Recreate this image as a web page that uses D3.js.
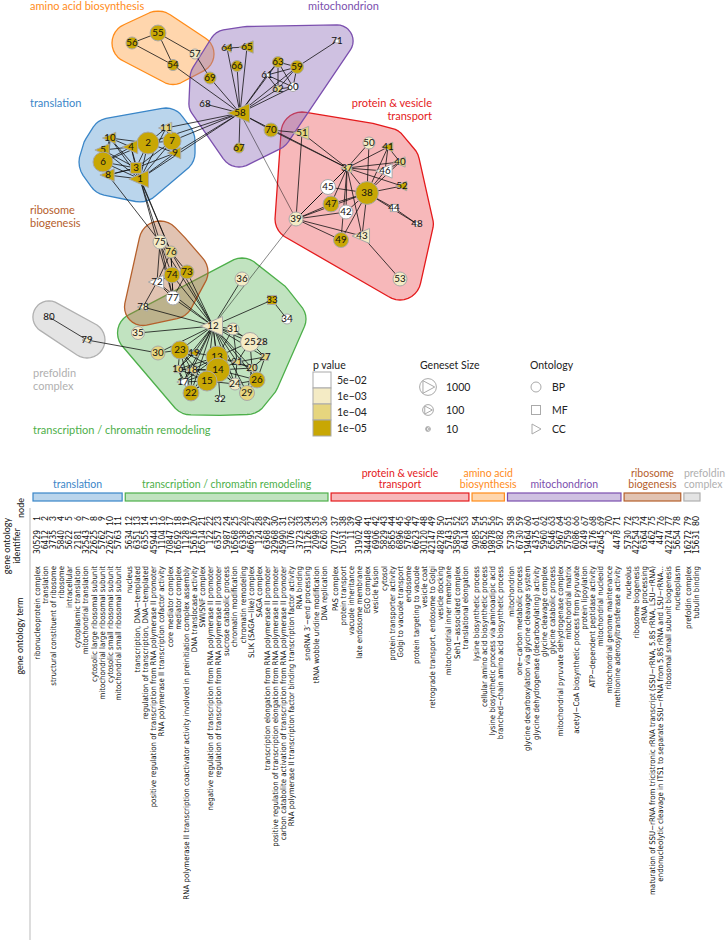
<!DOCTYPE html>
<html><head><meta charset="utf-8">
<script src="https://cdn.jsdelivr.net/npm/d3@7"></script>
<style>body{margin:0;background:#fff}svg{display:block}</style>
</head><body>
<svg id="chart" width="726" height="945"></svg>
<script>
// ---------------- DATA ----------------
const groupKeys   = ["translation","transcription","protein","amino","mito","ribosome","prefoldin"];
const groupLabels = [["translation"],["transcription / chromatin remodeling"],["protein & vesicle","transport"],["amino acid","biosynthesis"],["mitochondrion"],["ribosome","biogenesis"],["prefoldin","complex"]];
const groupColors = ["#3a86c8","#4daf4a","#e41a1c","#ff8c1a","#7b4fae","#b5602c","#b0b0b0"];
const groupFirst  = [1,12,37,54,58,72,79];

const goTerms = [
"ribonucleoprotein complex","translation","structural constituent of ribosome","ribosome","intracellular","cytoplasmic translation","mitochondrial translation","cytosolic large ribosomal subunit","mitochondrial large ribosomal subunit","cytosolic small ribosomal subunit","mitochondrial small ribosomal subunit",
"nucleus","transcription, DNA\u2212templated","regulation of transcription, DNA\u2212templated","positive regulation of transcription from RNA polymerase II promoter","RNA polymerase II transcription cofactor activity","core mediator complex","mediator complex","RNA polymerase II transcription coactivator activity involved in preinitiation complex assembly","DNA translocase activity","SWI/SNF complex","negative regulation of transcription from RNA polymerase II promoter","regulation of transcription from RNA polymerase II promoter","sucrose catabolic process","chromatin modification","chromatin remodeling","SLIK (SAGA\u2212like) complex","SAGA complex","transcription elongation from RNA polymerase II promoter","positive regulation of transcription elongation from RNA polymerase II promoter","carbon catabolite activation of transcription from RNA polymerase II promoter","RNA polymerase II transcription factor binding transcription factor activity","RNA binding","snoRNA 3\u2032\u2212end processing","tRNA wobble uridine modification","DNA replication",
"PAS complex","protein transport","vacuole inheritance","late endosome membrane","EGO complex","vesicle fusion","cytosol","protein transporter activity","Golgi to vacuole transport","endosome","protein targeting to vacuole","vesicle coat","retrograde transport, endosome to Golgi","vesicle docking","mitochondrial inner membrane","Seh1\u2212associated complex","translational elongation",
"lysine biosynthetic process","cellular amino acid biosynthetic process","lysine biosynthetic process via aminoadipic acid","branched\u2212chain amino acid biosynthetic process",
"mitochondrion","one\u2212carbon metabolic process","glycine decarboxylation via glycine cleavage system","glycine dehydrogenase (decarboxylating) activity","glycine cleavage complex","glycine catabolic process","mitochondrial pyruvate dehydrogenase complex","mitochondrial matrix","acetyl\u2212CoA biosynthetic process from pyruvate","protein lipoylation","ATP\u2212dependent peptidase activity","mitochondrial nucleoid","mitochondrial genome maintenance","methionine adenosyltransferase activity",
"nucleolus","ribosome biogenesis","rRNA processing","maturation of SSU\u2212rRNA from tricistronic rRNA transcript (SSU\u2212rRNA, 5.8S rRNA, LSU\u2212rRNA)","endonucleolytic cleavage in ITS1 to separate SSU\u2212rRNA from 5.8S rRNA and LSU\u2212rRNA...","ribosomal small subunit biogenesis","nucleoplasm",
"prefoldin complex","tubulin binding"];

const goIds = [30529,6412,3735,5840,5622,2181,32543,22625,5762,22627,5763,
5634,6351,6355,45944,1104,70847,16592,1128,15616,16514,122,6357,5987,16568,6338,46695,124,6368,32968,45990,1076,3723,31126,2098,6260,
70772,15031,11,31902,34448,6906,5829,8565,6896,5768,6623,30120,42147,48278,5743,35859,6414,
9085,8652,19878,9082,
5739,6730,19464,4375,5960,6546,5967,5759,6086,9249,4176,42645,2,4478,
5730,42254,6364,462,447,42274,5654,
16272,15631];

// network layout coordinates (layout units)
const layoutX = [140,148,136,131,103,103,172,108,175,110,166,
213,217,218,207,178,183,192,194,252,237,191,180,235,250,257,265,262,247,158,233,220,272,287,138,242,
347,367,296,400,388,346,362,394,328,385,331,417,341,369,302,402,400,
173,158,132,195,
240,297,293,267,278,278,227,247,237,239,205,210,271,337,
157,187,172,160,171,173,143,
87,49];
const layoutY = [179,143,168,147,150,162,141,175,153,138,128,
326,357,370,381,369,382,370,353,368,362,393,350,384,342,380,357,342,393,353,329,399,300,319,333,279,
168,193,219,162,147,212,236,208,187,171,204,224,240,143,133,186,279,
65,33,43,54,
113,67,87,75,89,62,48,47,66,148,104,78,130,41,
282,272,275,242,252,298,307,
340,317];
// ontology: BP circle, MF square, CC triangle
const ontology = ["CC","BP","MF","CC","CC","BP","BP","CC","CC","CC","CC",
"CC","BP","BP","BP","MF","CC","CC","CC","MF","CC","BP","BP","BP","BP","BP","MF","BP","BP","BP","BP","BP","MF","BP","BP","BP",
"CC","BP","BP","CC","CC","BP","CC","MF","BP","CC","BP","BP","BP","BP","CC","CC","BP",
"BP","BP","BP","BP",
"CC","BP","BP","CC","BP","BP","CC","CC","BP","BP","BP","BP","BP","BP",
"CC","BP","BP","BP","BP","BP","CC",
"CC","BP"];
const pValues = [1e-6,1e-6,1e-6,1e-6,1e-6,1e-6,1e-6,1e-6,1e-6,1e-6,5e-5,
5e-4,1e-6,1e-6,1e-6,5e-5,1e-2,5e-5,1e-6,5e-5,5e-5,1e-6,1e-6,5e-4,5e-4,1e-6,5e-5,5e-4,5e-5,5e-5,5e-4,1e-2,1e-6,1e-2,5e-4,5e-4,
5e-5,1e-6,5e-4,5e-5,1e-6,1e-2,5e-4,1e-2,1e-2,1e-2,1e-6,1e-2,1e-6,5e-4,5e-5,1e-6,5e-4,
1e-6,1e-6,1e-6,5e-4,
1e-6,1e-6,1e-2,1e-2,5e-5,1e-6,1e-6,1e-6,1e-6,1e-6,1e-2,1e-6,1e-6,1e-2,
1e-2,1e-6,1e-6,5e-4,5e-5,1e-2,5e-4,
5e-4,1e-2];
const genesetSize = [1500,7000,160,350,230,3400,1600,230,160,160,160,
3400,7000,15000,3400,34,70,70,40,34,50,700,1600,160,2300,700,25,16,500,340,160,10,74,74,230,340,
74,10000,340,100,74,340,700,34,500,500,700,10,500,160,340,74,340,
108,700,160,74,
3400,230,50,10,25,108,50,230,108,74,8,160,340,8,
340,340,700,340,160,340,50,
34,8];

const edges = [
[1,2],[1,3],[1,4],[1,5],[1,6],[1,7],[1,8],[1,9],[1,10],[1,11],[2,3],[2,4],[2,6],[2,7],[2,9],[2,10],[2,11],
[3,4],[3,5],[3,6],[3,7],[3,8],[3,9],[3,10],[4,6],[4,10],[5,6],[5,8],[6,8],[6,10],[7,9],[7,11],[8,10],[9,11],[4,5],[8,3],
[11,58],[7,58],[9,58],[2,58],[1,58],
[1,75],[1,76],[3,76],[8,75],[1,77],
[58,54],[58,64],[58,65],[58,66],[58,61],[58,62],[58,63],[58,59],[58,60],[58,68],[58,69],[58,67],[58,70],[58,37],[58,39],
[64,65],[59,71],[59,63],[59,61],[59,62],[59,60],[63,61],[63,62],[63,60],[61,62],[61,60],[62,60],[70,51],[70,37],[57,69],
[55,56],[55,54],[56,54],[55,57],
[37,51],[37,50],[37,41],[37,40],[37,46],[37,52],[37,38],[37,45],[37,47],[37,42],[37,39],[37,43],[37,49],
[38,50],[38,41],[38,40],[38,46],[38,52],[38,44],[38,48],[38,45],[38,47],[38,42],[38,39],[38,49],[38,43],
[39,47],[39,42],[39,49],[39,43],[39,45],[41,40],[40,46],[44,48],[43,53],[51,39],[46,41],
[12,13],[12,14],[12,15],[12,16],[12,17],[12,18],[12,19],[12,20],[12,21],[12,22],[12,23],[12,24],[12,25],[12,26],[12,27],[12,28],[12,29],[12,30],[12,31],[12,33],[12,35],[12,36],
[12,72],[12,73],[12,74],[12,75],[12,76],[12,77],[12,78],[12,39],[33,34],[30,79],[79,80],
[13,14],[13,15],[13,23],[13,22],[13,18],[13,16],[13,17],[13,21],[13,24],[13,25],[13,20],
[14,15],[14,22],[14,23],[14,18],[14,17],[14,16],[14,21],[14,20],[14,24],[14,26],[14,29],[14,32],
[15,22],[15,23],[15,16],[15,17],[15,18],[15,24],[16,17],[16,18],[16,22],[16,23],[17,18],[17,22],[18,22],[18,23],[19,23],[19,16],
[20,21],[20,25],[20,26],[20,27],[20,29],[21,25],[21,27],[21,31],[22,23],[24,26],[24,29],[24,21],[25,28],[25,27],[25,31],[26,29],[26,27],[23,30],[13,31],
[75,76],[75,74],[75,72],[75,77],[76,74],[76,73],[76,77],[74,73],[74,77],[72,74],[72,77],[73,77],[78,72],[76,72]
];

const pLegend = ["5e\u221202","1e\u221203","1e\u221204","1e\u221205"];
const sizeLegend = [1000,100,10];
const ontoLegend = ["BP","MF","CC"];
const rowLabels = [["node"],["gene ontology","identifier"],["gene ontology term"]];

// ---------------- SETUP ----------------
const svg = d3.select("#chart");
const FONT = "Lato, 'Open Sans', sans-serif";
const NARROW = "'Liberation Sans Narrow', 'DejaVu Sans Condensed', sans-serif";
const nodeIds = goIds.map((d,i)=>i+1);
const groupOf = id => { let g=0; groupFirst.forEach((f,i)=>{ if(id>=f) g=i; }); return g; };

const xNet = d3.scaleLinear().domain(d3.extent(layoutX)).range([49,417]);
const yNet = d3.scaleLinear().domain(d3.extent(layoutY)).range([33,399]);
const rScale = d3.scaleLog().domain([10,1000]).range([2.4,8.4]);
const pColors = ["#c8a704","#e6d57e","#f4ebc5","#ffffff"];
const pColor = d3.scaleThreshold().domain([1e-5,1e-4,1e-3]).range(pColors);

const nodes = nodeIds.map((id,i)=>({id, x:xNet(layoutX[i]), y:yNet(layoutY[i]), r:rScale(genesetSize[i]), onto:ontology[i], p:pValues[i], g:groupOf(id)}));
const byId = new Map(nodes.map(n=>[n.id,n]));

// ---------------- HULLS ----------------
const hullFill = ["#3a86c8","#4daf4a","#e8353a","#ff9933","#8c6bb8","#b5683f","#c4c4c4"];
const hullOp   = [0.35,0.35,0.35,0.4,0.42,0.4,0.45];
const gHull = svg.append("g");
groupKeys.forEach((k,gi)=>{
  const pts=[];
  nodes.filter(n=>n.g===gi).forEach(n=>{
    const R = 14 + n.r;
    for(let a=0;a<32;a++){ const t=a/32*2*Math.PI; pts.push([n.x+R*Math.cos(t), n.y+R*Math.sin(t)]); }
  });
  const hull = d3.polygonHull(pts);
  gHull.append("path").attr("d", d3.line().curve(d3.curveLinearClosed)(hull))
    .attr("fill", hullFill[gi]).attr("fill-opacity", hullOp[gi])
    .attr("stroke", groupColors[gi]).attr("stroke-width",1.3).attr("stroke-linejoin","round");
});

// ---------------- EDGES ----------------
svg.append("g").selectAll("line").data(edges).join("line")
  .attr("x1",d=>byId.get(d[0]).x).attr("y1",d=>byId.get(d[0]).y)
  .attr("x2",d=>byId.get(d[1]).x).attr("y2",d=>byId.get(d[1]).y)
  .attr("stroke","#111").attr("stroke-width",d=> (groupOf(d[0])!==groupOf(d[1]) && (d[0]===39||d[1]===39)) ? 0.5 : 0.8);

// ---------------- NODES ----------------
const gNodes = svg.append("g");
nodes.forEach(n=>{
  const g = gNodes.append("g").attr("transform",`translate(${n.x},${n.y})`);
  const fill = pColor(n.p);
  if(n.onto==="BP"){
    g.append("circle").attr("r",n.r);
  } else if(n.onto==="MF"){
    const s=n.r*0.9;
    g.append("rect").attr("x",-s).attr("y",-s).attr("width",2*s).attr("height",2*s);
  } else {
    const r=n.r;
    g.append("path").attr("d",`M${-1.25*r},0L${0.95*r},${-0.95*r}L${0.95*r},${0.95*r}Z`);
  }
  g.select(":first-child").attr("fill",fill).attr("stroke","#a8a8a8").attr("stroke-width",1);
  g.append("text").text(n.id).attr("text-anchor","middle").attr("dy","0.35em")
    .attr("font-family",FONT).attr("font-size",9.8).attr("fill","#111");
});

// ---------------- NETWORK GROUP LABELS ----------------
const netLabels = [
  {g:0, x:30, y:107, anchor:"start"},
  {g:1, x:33, y:434, anchor:"start"},
  {g:2, x:432, y:107, anchor:"end"},
  {g:3, x:30, y:10, anchor:"start", one:true},
  {g:4, x:308, y:10, anchor:"start"},
  {g:5, x:30, y:214, anchor:"start"},
  {g:6, x:33, y:377, anchor:"start"}
];
netLabels.forEach(l=>{
  const lines = l.one ? [groupLabels[l.g].join(" ")] : groupLabels[l.g];
  const t = svg.append("text").attr("font-family",FONT).attr("font-size",11)
    .attr("fill",groupColors[l.g]).attr("text-anchor",l.anchor);
  lines.forEach((s,i)=>t.append("tspan").attr("x",l.x).attr("y",l.y+i*13).text(s));
});

// ---------------- LEGEND ----------------
const leg = svg.append("g").attr("font-family",FONT).attr("font-size",10.5).attr("fill","#222");
leg.append("text").attr("x",313).attr("y",369).text("p value");
pLegend.forEach((s,i)=>{
  leg.append("rect").attr("x",313).attr("y",372+i*16).attr("width",18).attr("height",16)
    .attr("fill",pColors[3-i]).attr("stroke","#aaa");
  leg.append("text").attr("x",337).attr("y",384+i*16).text(s);
});
leg.append("text").attr("x",420).attr("y",369).text("Geneset Size");
const sizeY=[387,410,429];
sizeLegend.forEach((v,i)=>{
  const r=rScale(v), cx=428;
  leg.append("circle").attr("cx",cx).attr("cy",sizeY[i]).attr("r",r).attr("fill","#fff").attr("stroke","#aaa");
  leg.append("path").attr("d",`M${cx-0.6*r},${sizeY[i]-0.75*r}L${cx+0.8*r},${sizeY[i]}L${cx-0.6*r},${sizeY[i]+0.75*r}Z`)
    .attr("fill","none").attr("stroke","#aaa");
  leg.append("text").attr("x",446).attr("y",sizeY[i]+4).text(v);
});
leg.append("text").attr("x",530).attr("y",369).text("Ontology");
ontoLegend.forEach((s,i)=>{
  const cy=sizeY[i], cx=536;
  if(s==="BP") leg.append("circle").attr("cx",cx).attr("cy",cy).attr("r",5).attr("fill","#fff").attr("stroke","#aaa");
  else if(s==="MF") leg.append("rect").attr("x",cx-4.5).attr("y",cy-4.5).attr("width",9).attr("height",9).attr("fill","#fff").attr("stroke","#aaa");
  else leg.append("path").attr("d",`M${cx-4},${cy-5}L${cx+5},${cy}L${cx-4},${cy+5}Z`).attr("fill","#fff").attr("stroke","#aaa");
  leg.append("text").attr("x",552).attr("y",cy+4).text(s);
});

// ---------------- TABLE ----------------
const slot = nodeIds.map(id=>(id-1) + groupOf(id)*0.37);
const xCol = d3.scaleLinear().domain([0, 79+6*0.37]).range([37,696]);
const colX = id => xCol(slot[id-1]);
const tab = svg.append("g");

// group bars and labels
groupKeys.forEach((k,gi)=>{
  const ids = nodeIds.filter(id=>groupOf(id)===gi);
  const x0 = colX(ids[0])-4, x1 = colX(ids[ids.length-1])+4;
  tab.append("rect").attr("x",x0).attr("y",493).attr("width",x1-x0).attr("height",8)
    .attr("fill",hullFill[gi]).attr("fill-opacity",hullOp[gi]).attr("stroke",groupColors[gi]).attr("stroke-width",1.2);
  const lines = groupLabels[gi];
  const last = gi===groupKeys.length-1;
  const t = tab.append("text").attr("font-family",FONT).attr("font-size",10.5).attr("fill",groupColors[gi])
    .attr("text-anchor", last ? "start" : "middle");
  lines.forEach((s,i)=>t.append("tspan").attr("x", last ? x0 : (x0+x1)/2).attr("y",488-(lines.length-1-i)*11.5).text(s));
});

function vtext(x,y,s,size,family,anchor){
  return tab.append("text").attr("transform",`translate(${x},${y}) rotate(-90)`)
    .attr("text-anchor",anchor||"end").attr("dy","0.35em").attr("font-family",family).attr("font-size",size).attr("fill","#111").text(s);
}
nodeIds.forEach((id,i)=>{
  const x=colX(id);
  vtext(x,516,id,8.5,FONT);
  vtext(x,530,goIds[i],8.4,NARROW);
  vtext(x,566,goTerms[i],7.8,NARROW);
});

// row labels
const rl = svg.append("g").attr("font-family",FONT).attr("font-size",9).attr("fill","#111");
rl.append("text").attr("transform","translate(21,508) rotate(-90)").attr("text-anchor","middle").attr("dy","0.35em").text(rowLabels[0][0]);
rl.append("text").attr("transform","translate(7,546) rotate(-90)").attr("text-anchor","middle").attr("dy","0.35em").text(rowLabels[1][0]);
rl.append("text").attr("transform","translate(17,546) rotate(-90)").attr("text-anchor","middle").attr("dy","0.35em").text(rowLabels[1][1]);
rl.append("text").attr("transform","translate(20,636) rotate(-90)").attr("text-anchor","middle").attr("dy","0.35em").text(rowLabels[2][0]);
svg.append("line").attr("x1",30).attr("x2",30).attr("y1",508).attr("y2",940).attr("stroke","#bbb").attr("stroke-width",1);
</script>
</body></html>
